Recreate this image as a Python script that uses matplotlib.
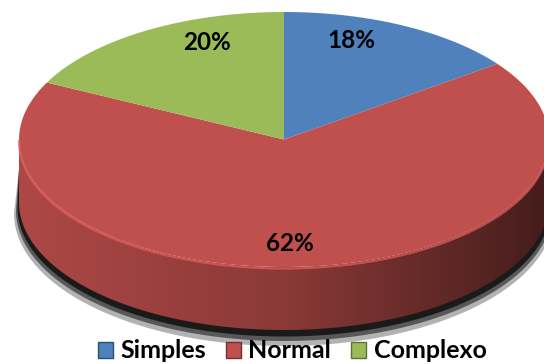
import numpy as np
import matplotlib.pyplot as plt
from matplotlib.patches import Polygon, Patch
from matplotlib.colors import LinearSegmentedColormap, to_rgb

# data
labels = ["Simples", "Normal", "Complexo"]
shares = [18, 62, 20]
colors = ["#4F81BD", "#C0504D", "#9BBB59"]

# ellipse geometry in pixel units (axes spans the whole figure)
cx, cy = 284, 139.5
a, b = 265, 127.5
depth = 63
persp = 14.5  # fake perspective: squeezes the far half of the pie


def warp(t):
    t = np.asarray(t, dtype=float)
    return t - persp * np.sin(np.radians(2 * t))


def arc(t0, t1, dy=0.0, n=150, grow=0.0):
    t = np.radians(warp(np.linspace(t0, t1, n)))
    x = cx + (a + grow) * np.sin(t)
    y = cy + dy - (b + grow) * np.cos(t)
    return np.column_stack([x, y])


def shade(color, f):
    r, g, bl = to_rgb(color)
    return (min(r * f, 1), min(g * f, 1), min(bl * f, 1))


fig = plt.figure(figsize=(5.44, 3.64), dpi=100)
ax = fig.add_axes([0, 0, 1, 1])
ax.set_xlim(0, 544)
ax.set_ylim(364, 0)
ax.axis("off")

# shadow under the pie (only below / left of the side)
for g, dy, al in [(5, depth + 11, 0.3), (3, depth + 8, 0.5), (1.5, depth + 5, 0.7)]:
    pts = np.vstack([arc(90, 270, dy=dy, grow=g), arc(270, 90, dy=30)])
    ax.add_patch(Polygon(pts, closed=True, facecolor="black", edgecolor="none", alpha=al, zorder=1))

# slices: angles clockwise from 12 o'clock
bounds = np.concatenate([[0], np.cumsum(shares)]) / sum(shares) * 360
for i, c in enumerate(colors):
    s, e = bounds[i], bounds[i + 1]
    lo, hi = max(s, 90), min(e, 270)
    if lo < hi:
        top = arc(lo, hi)
        bot = arc(lo, hi, dy=depth)[::-1]
        side = Polygon(np.vstack([top, bot]), closed=True, facecolor="none", edgecolor="none", zorder=2)
        ax.add_patch(side)
        cmap = LinearSegmentedColormap.from_list(
            "side", [shade(c, 0.9), shade(c, 0.72), shade(c, 0.36)])
        grad = np.tile(np.linspace(0, 1, 300), (10, 1))
        im = ax.imshow(grad, cmap=cmap, extent=(cx - a, cx + a, 364, 0),
                       aspect="auto", zorder=2, interpolation="bilinear")
        im.set_clip_path(side)
        rim = arc(lo, hi, dy=1.5)
        ax.plot(rim[:, 0], rim[:, 1], color=shade(c, 1.2), lw=1.6, alpha=0.7, zorder=4)

for i, c in enumerate(colors):
    s, e = bounds[i], bounds[i + 1]
    pts = np.vstack([[cx, cy], arc(s, e)])
    ax.add_patch(Polygon(pts, closed=True, facecolor=c, edgecolor="none", zorder=3))

# percentage labels
rx, ry = 0.77, 0.82
for i in range(len(shares)):
    mid = np.radians(warp((bounds[i] + bounds[i + 1]) / 2))
    x = cx + rx * a * np.sin(mid)
    y = cy - ry * b * np.cos(mid)
    ax.text(x, y, f"{shares[i]}%", ha="center", va="center", fontsize=17.5,
            fontweight="bold", family="Lato", color="black", zorder=5)

handles = [Patch(facecolor=c, edgecolor=shade(c, 0.6), label=l) for c, l in zip(colors, labels)]
ax.legend(handles=handles, loc="center", bbox_to_anchor=(292 / 544, 1 - 351 / 364), ncol=3,
          frameon=False, prop={"family": "Lato", "weight": "bold", "size": 18},
          handlelength=0.6, handleheight=0.6, handletextpad=0.3, columnspacing=0.8,
          borderpad=0)

fig.savefig("out.png", dpi=100)
